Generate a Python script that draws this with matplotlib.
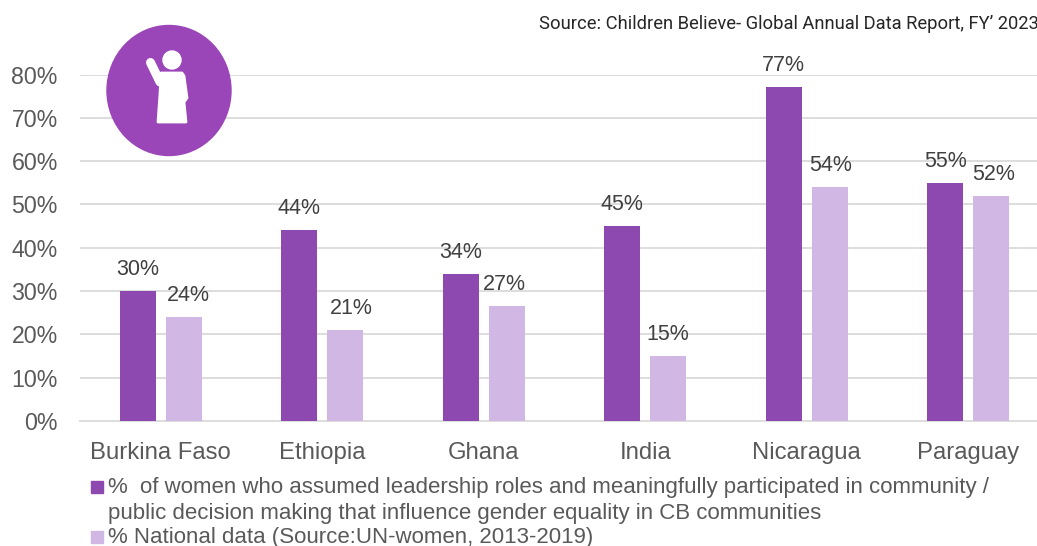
import matplotlib
matplotlib.use("Agg")
import matplotlib.pyplot as plt
import numpy as np
from matplotlib.patches import Ellipse, Circle, Polygon, Rectangle
from matplotlib.lines import Line2D
from matplotlib.transforms import Affine2D

countries = ["Burkina Faso", "Ethiopia", "Ghana", "India", "Nicaragua", "Paraguay"]
cb_values = [30, 44, 34, 45, 77, 55]
national_values = [24, 21, 26.5, 15, 54, 52]
cb_labels = ["30%", "44%", "34%", "45%", "77%", "55%"]
national_labels = ["24%", "21%", "27%", "15%", "54%", "52%"]
yticks = [0, 10, 20, 30, 40, 50, 60, 70, 80]

legend1a = "%  of women who assumed leadership roles and meaningfully participated in community /"
legend1b = "public decision making that influence gender equality in CB communities"
legend2 = "% National data (Source:UN-women, 2013-2019)"
source = "Source: Children Believe- Global Annual Data Report, FY\u2019 2023"

dark = "#8E49B0"
light = "#D1B7E3"
circle_col = "#9A45B8"
grey = "#595959"
W, H = 1037, 546

plt.rcParams["font.family"] = ["Liberation Sans", "DejaVu Sans"]

fig = plt.figure(figsize=(W / 100, H / 100), dpi=100)
# axes runs past the right edge of the picture, like the reference
ax = fig.add_axes([80 / W, 1 - 421 / H, 969 / W, 346.5 / H])

x = np.arange(len(countries))
bw = 36 / 161.5
off = 23 / 161.5
ax.bar(x - off, cb_values, bw, color=dark, zorder=3)
ax.bar(x + off, national_values, bw, color=light, zorder=3)

# the light bar labels were moved by hand in the original
nudge = [3.5, 4.5, -1.5, 0, 0.5, 2]
for i in x:
    ax.annotate(cb_labels[i], (i - off, cb_values[i]), xytext=(0, 8), textcoords="offset points",
                ha="center", va="bottom", fontsize=15.5, color="#404040", zorder=5)
    ax.annotate(national_labels[i], (i + off, national_values[i]), xytext=(nudge[i], 8), textcoords="offset points",
                ha="center", va="bottom", fontsize=15.5, color="#404040", zorder=5)

ax.set_xlim(-0.5, 5.5)
ax.set_ylim(0, 80)
ax.set_yticks(yticks)
ax.set_yticklabels([str(v) + "%" for v in yticks], fontsize=16.7, color=grey)
ax.set_xticks(x)
ax.set_xticklabels(countries, fontsize=17.2, color=grey)
ax.tick_params(length=0)
ax.tick_params(axis="y", pad=16)
ax.tick_params(axis="x", pad=15)
ax.grid(axis="y", color="#DDDDDD", lw=1.4, zorder=0)
ax.set_axisbelow(True)
for s in ["top", "right", "left"]:
    ax.spines[s].set_visible(False)
ax.spines["bottom"].set_color("#DDDDDD")
ax.spines["bottom"].set_linewidth(1.4)

px = Affine2D().scale(1 / W, -1 / H).translate(0, 1) + fig.transFigure

# icon
fig.add_artist(Ellipse((169, 90.5), 124, 130, color=circle_col, transform=px, zorder=6))
fig.add_artist(Circle((172, 60), 9, color="white", transform=px, zorder=7))
fig.add_artist(Line2D([150.5, 160], [62.5, 82], color="white", lw=6.5, solid_capstyle="round",
                      transform=px, zorder=7))
fig.add_artist(Polygon([(161, 73), (182, 73), (184, 76), (187, 98), (184, 102), (186, 122),
                        (158, 122), (160, 94)],
                       closed=True, facecolor="white", edgecolor="white", lw=2, joinstyle="round",
                       transform=px, zorder=7))

# legend
fig.add_artist(Rectangle((91, 481), 12, 12, color=dark, transform=px))
fig.add_artist(Rectangle((91, 531), 12, 12, color=light, transform=px))
fig.text(108 / W, 1 - 493 / H, legend1a, fontsize=16, color=grey, va="baseline")
fig.text(108 / W, 1 - 519 / H, legend1b, fontsize=16, color=grey, va="baseline")
fig.text(108 / W, 1 - 543 / H, legend2, fontsize=16, color=grey, va="baseline")

fig.text(539 / W, 1 - 29 / H, source, fontsize=13.25, color="#262626", va="baseline",
         family=["Roboto", "DejaVu Sans"])

fig.savefig("out.png", dpi=100)
